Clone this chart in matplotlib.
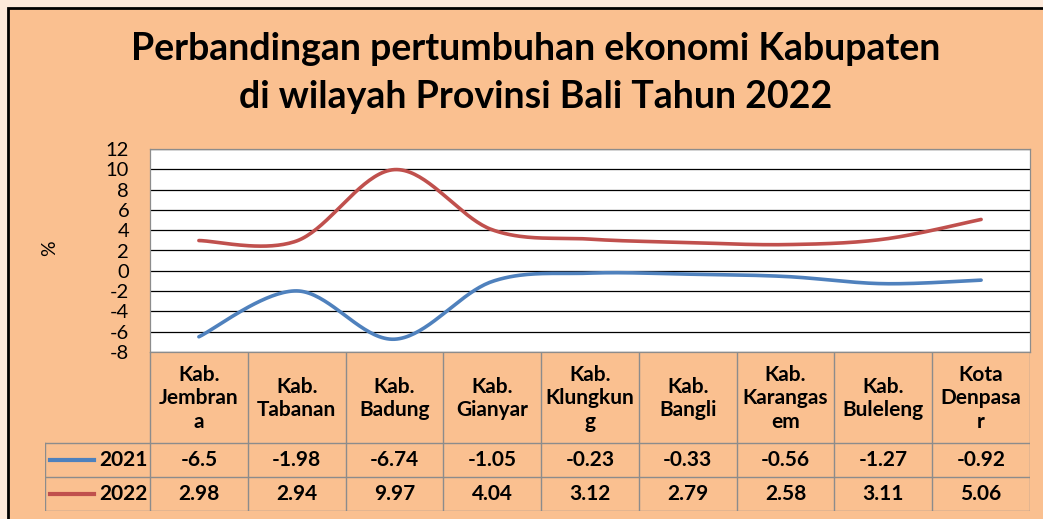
import numpy as np
import matplotlib
matplotlib.use("Agg")
import matplotlib.pyplot as plt
from matplotlib.patches import Rectangle

plt.rcParams['font.family'] = ['Lato', 'DejaVu Sans']
plt.rcParams['axes.unicode_minus'] = False

# data
kabupaten = ['Kab.\nJembran\na', 'Kab.\nTabanan', 'Kab.\nBadung', 'Kab.\nGianyar',
             'Kab.\nKlungkun\ng', 'Kab.\nBangli', 'Kab.\nKarangas\nem', 'Kab.\nBuleleng',
             'Kota\nDenpasa\nr']
tahun = ['2021', '2022']
y2021 = [-6.5, -1.98, -6.74, -1.05, -0.23, -0.33, -0.56, -1.27, -0.92]
y2022 = [2.98, 2.94, 9.97, 4.04, 3.12, 2.79, 2.58, 3.11, 5.06]
label2021 = ['-6.5', '-1.98', '-6.74', '-1.05', '-0.23', '-0.33', '-0.56', '-1.27', '-0.92']
label2022 = ['2.98', '2.94', '9.97', '4.04', '3.12', '2.79', '2.58', '3.11', '5.06']
warna = ['#4F81BD', '#C0504D']

PEACH = '#FAC090'
PINK = '#FDE9DA'
GRID_TBL = '#8C8C8C'


def smooth(xs, ys, n=40):
    # excel-like smoothed line (catmull-rom as bezier)
    p = np.column_stack([xs, ys]).astype(float)
    out = []
    for i in range(len(p) - 1):
        p0 = p[i]
        p3 = p[i + 1]
        prev = p[i - 1] if i > 0 else p[i]
        nxt = p[i + 2] if i + 2 < len(p) else p[i + 1]
        p1 = p0 + (p3 - prev) / 6
        p2 = p3 - (nxt - p0) / 6
        t = np.linspace(0, 1, n)[:, None]
        seg = ((1 - t) ** 3) * p0 + 3 * ((1 - t) ** 2) * t * p1 + 3 * (1 - t) * t ** 2 * p2 + t ** 3 * p3
        out.append(seg if i == 0 else seg[1:])
    out = np.vstack(out)
    return out[:, 0], out[:, 1]


W, H = 1043, 519
fig = plt.figure(figsize=(W / 100, H / 100), dpi=100)
fig.patch.set_facecolor(PINK)

# outer chart frame
bg = fig.add_axes([0, 0, 1, 1])
bg.set_xlim(0, W)
bg.set_ylim(H, 0)
bg.axis('off')
bg.add_patch(Rectangle((8, 8), W + 10, H + 10, facecolor=PEACH, edgecolor='black', lw=2))

fig.text(536 / W, 1 - 49 / H, 'Perbandingan pertumbuhan ekonomi Kabupaten',
         ha='center', va='center', fontsize=27, fontweight='bold')
fig.text(536 / W, 1 - 97 / H, 'di wilayah Provinsi Bali Tahun 2022',
         ha='center', va='center', fontsize=27, fontweight='bold')
fig.text(50 / W, 1 - 248 / H, '%', rotation=90, ha='center', va='center', fontsize=14)

# plot area
L, R, T, B = 150, 1030, 149, 352
ax = fig.add_axes([L / W, 1 - B / H, (R - L) / W, (B - T) / H])
ax.set_facecolor('white')
x = np.arange(len(kabupaten)) + 0.5
for vals, c in zip([y2021, y2022], warna):
    sx, sy = smooth(x, vals)
    ax.plot(sx, sy, color=c, lw=2.6, solid_capstyle='round', zorder=3)
ax.set_xlim(0, len(kabupaten))
ax.set_ylim(-8, 12)
ax.set_yticks(np.arange(-8, 13, 2))
ax.set_xticks([])
ax.grid(axis='y', color='black', lw=0.9)
ax.tick_params(axis='y', length=0, labelsize=14.5, pad=15)
for s in ax.spines.values():
    s.set_color(GRID_TBL)
    s.set_linewidth(0.9)

# data table
TL, TT, TB = 45, 352, 511
colw = (R - L) / len(kabupaten)
legw = (L - TL) / colw
tax = fig.add_axes([TL / W, 1 - TB / H, (R - TL) / W, (TB - TT) / H])
tax.set_xlim(-legw, len(kabupaten))
tax.set_ylim(TB - TT, 0)
tax.axis('off')
hdr, rowh = 91, 34
lk = dict(color=GRID_TBL, lw=1)
for i in range(len(kabupaten) + 1):
    tax.plot([i, i], [0, hdr + 2 * rowh], **lk)
tax.plot([-legw, -legw], [hdr, hdr + 2 * rowh], **lk)
for yy in [hdr, hdr + rowh, hdr + 2 * rowh]:
    tax.plot([-legw, len(kabupaten)], [yy, yy], **lk)
for i, nm in enumerate(kabupaten):
    tax.text(i + 0.5, hdr / 2 + 1, nm, ha='center', va='center', fontsize=15,
             fontweight='bold', linespacing=1.2)
for r, (th, labs, c) in enumerate(zip(tahun, [label2021, label2022], warna)):
    yc = hdr + rowh * (r + 0.5)
    tax.plot([-legw + 0.05, -legw + 0.5], [yc, yc], color=c, lw=3)
    tax.text(-0.02, yc, th, ha='right', va='center', fontsize=15, fontweight='bold')
    for i, v in enumerate(labs):
        tax.text(i + 0.5, yc, v, ha='center', va='center', fontsize=15, fontweight='bold')

fig.savefig('out.png', dpi=100, facecolor=fig.get_facecolor())
